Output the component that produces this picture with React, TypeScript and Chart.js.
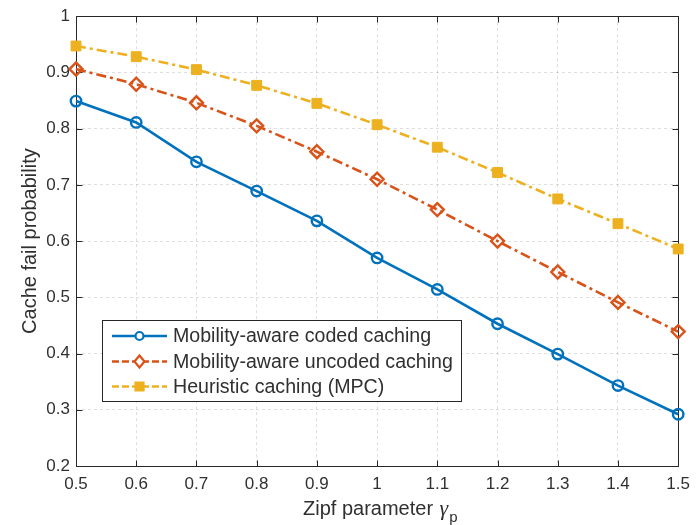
import React, { useEffect, useRef } from "react";
import { Chart, registerables } from "chart.js";

Chart.register(...registerables);

const zipfParams = [0.5, 0.6, 0.7, 0.8, 0.9, 1.0, 1.1, 1.2, 1.3, 1.4, 1.5];
const codedCaching = [0.849, 0.811, 0.741, 0.689, 0.636, 0.570, 0.514, 0.453, 0.399, 0.343, 0.292];
const uncodedCaching = [0.906, 0.879, 0.846, 0.805, 0.759, 0.710, 0.656, 0.600, 0.545, 0.491, 0.439];
const heuristicCaching = [0.947, 0.928, 0.905, 0.877, 0.845, 0.807, 0.767, 0.722, 0.675, 0.631, 0.586];

const seriesNames = [
  "Mobility-aware coded caching",
  "Mobility-aware uncoded caching",
  "Heuristic caching (MPC)",
];

const xTickValues = [0.5, 0.6, 0.7, 0.8, 0.9, 1.0, 1.1, 1.2, 1.3, 1.4, 1.5];
const xTickLabels = ["0.5", "0.6", "0.7", "0.8", "0.9", "1", "1.1", "1.2", "1.3", "1.4", "1.5"];
const yTickValues = [0.2, 0.3, 0.4, 0.5, 0.6, 0.7, 0.8, 0.9, 1.0];
const yTickLabels = ["0.2", "0.3", "0.4", "0.5", "0.6", "0.7", "0.8", "0.9", "1"];

const xTitle = "Zipf parameter ";
const xTitleSymbol = "\u03B3";
const xTitleSub = "p";
const yTitle = "Cache fail probability";

const BLUE = "#0072BD";
const ORANGE = "#D95319";
const YELLOW = "#EDB120";
const AXIS = "#262626";
const TEXT = "#303030";
const DASHDOT = [10, 4, 3, 4];
const FONT = "'Liberation Sans', Arial, sans-serif";
const LW = 2.6;

const toPoints = (ys: number[]) => zipfParams.map((x, i) => ({ x, y: ys[i] }));

function drawMarker(ctx: CanvasRenderingContext2D, style: string, x: number, y: number, r: number, color: string) {
  ctx.save();
  ctx.setLineDash([]);
  ctx.strokeStyle = color;
  ctx.fillStyle = color;
  ctx.lineWidth = 2.2;
  ctx.beginPath();
  if (style === "circle") {
    ctx.arc(x, y, r, 0, Math.PI * 2);
    ctx.fillStyle = "#ffffff";
    ctx.fill();
    ctx.stroke();
  } else if (style === "rectRot") {
    ctx.moveTo(x - r, y);
    ctx.lineTo(x, y - r - 1);
    ctx.lineTo(x + r, y);
    ctx.lineTo(x, y + r + 1);
    ctx.closePath();
    ctx.fillStyle = "#ffffff";
    ctx.fill();
    ctx.stroke();
  } else {
    ctx.rect(x - r, y - r, 2 * r, 2 * r);
    ctx.fill();
    ctx.stroke();
  }
  ctx.restore();
}

const framePlugin = {
  id: "matlabFrame",
  beforeDatasetsDraw(chart: any) {
    const { ctx, chartArea: a, scales } = chart;
    const L = Math.round(a.left) + 0.5;
    const R = Math.round(a.right) + 0.5;
    const T = Math.round(a.top) + 0.5;
    const B = Math.round(a.bottom) + 0.5;
    ctx.save();
    ctx.strokeStyle = AXIS;
    ctx.lineWidth = 1;
    ctx.setLineDash([]);
    ctx.beginPath();
    ctx.rect(L, T, R - L, B - T);
    ctx.stroke();
    const tl = 6;
    ctx.beginPath();
    xTickValues.forEach((v) => {
      const px = Math.round(scales.x.getPixelForValue(v)) + 0.5;
      ctx.moveTo(px, B);
      ctx.lineTo(px, B - tl);
      ctx.moveTo(px, T);
      ctx.lineTo(px, T + tl);
    });
    yTickValues.forEach((v) => {
      const py = Math.round(scales.y.getPixelForValue(v)) + 0.5;
      ctx.moveTo(L, py);
      ctx.lineTo(L + tl, py);
      ctx.moveTo(R, py);
      ctx.lineTo(R - tl, py);
    });
    ctx.stroke();
    ctx.restore();
  },
  afterDraw(chart: any) {
    const { ctx, chartArea: a } = chart;
    ctx.save();
    ctx.fillStyle = TEXT;
    // y title
    ctx.save();
    ctx.translate(30, (a.top + a.bottom) / 2);
    ctx.rotate(-Math.PI / 2);
    ctx.font = `20px ${FONT}`;
    ctx.textAlign = "center";
    ctx.textBaseline = "middle";
    ctx.fillText(yTitle, 0, 0);
    ctx.restore();

    // x title with subscript
    const base = 515;
    let x0 = 303;
    ctx.textAlign = "left";
    ctx.textBaseline = "alphabetic";
    ctx.font = `20px ${FONT}`;
    const w1 = ctx.measureText(xTitle).width;
    ctx.fillText(xTitle, x0, base);
    x0 += w1 + 1;
    ctx.font = `italic 22px 'Liberation Serif', 'Times New Roman', serif`;
    const w2 = ctx.measureText(xTitleSymbol).width;
    ctx.fillText(xTitleSymbol, x0, base);
    x0 += w2 + 1;
    ctx.font = `15px ${FONT}`;
    ctx.fillText(xTitleSub, x0, base + 7);

    // legend
    const box = { l: 102.5, t: 320.5, r: 461.5, b: 401.5 };
    ctx.fillStyle = "#ffffff";
    ctx.fillRect(box.l, box.t, box.r - box.l, box.b - box.t);
    ctx.strokeStyle = AXIS;
    ctx.lineWidth = 1;
    ctx.strokeRect(box.l, box.t, box.r - box.l, box.b - box.t);
    const rows = [
      { name: seriesNames[0], color: BLUE, dash: [] as number[], marker: "circle", r: 4 },
      { name: seriesNames[1], color: ORANGE, dash: [7, 3], marker: "rectRot", r: 5 },
      { name: seriesNames[2], color: YELLOW, dash: [7, 3], marker: "rect", r: 4 },
    ];
    const rowY = [336, 361.5, 386.5];
    rows.forEach((row, i) => {
      const y = rowY[i];
      ctx.save();
      ctx.strokeStyle = row.color;
      ctx.lineWidth = LW;
      ctx.setLineDash(row.dash);
      ctx.beginPath();
      ctx.moveTo(112, y);
      ctx.lineTo(167, y);
      ctx.stroke();
      ctx.restore();
      drawMarker(ctx, row.marker, 139.5, y, row.r, row.color);
      ctx.fillStyle = TEXT;
      ctx.font = `19.6px ${FONT}`;
      ctx.textAlign = "left";
      ctx.textBaseline = "middle";
      ctx.fillText(row.name, 173, y + 1);
    });
    ctx.restore();
  },
};

export default function App() {
  const canvasRef = useRef<HTMLCanvasElement | null>(null);

  useEffect(() => {
    document.body.style.margin = "0";
    const canvas = canvasRef.current;
    if (!canvas) return;
    const chart = new Chart(canvas, {
      type: "line",
      data: {
        datasets: [
          {
            label: seriesNames[0],
            data: toPoints(codedCaching),
            borderColor: BLUE,
            backgroundColor: "#ffffff",
            borderWidth: LW,
            pointStyle: "circle",
            pointRadius: 5.2,
            pointBorderWidth: 2.4,
            pointBorderColor: BLUE,
            pointBackgroundColor: "rgba(255,255,255,0)",
            tension: 0,
            clip: false,
          },
          {
            label: seriesNames[1],
            data: toPoints(uncodedCaching),
            borderColor: ORANGE,
            backgroundColor: "#ffffff",
            borderWidth: LW,
            borderDash: DASHDOT,
            pointStyle: "rectRot",
            pointRadius: 6.5,
            pointBorderWidth: 2.4,
            pointBorderColor: ORANGE,
            pointBackgroundColor: "rgba(255,255,255,0)",
            tension: 0,
            clip: false,
          },
          {
            label: seriesNames[2],
            data: toPoints(heuristicCaching),
            borderColor: YELLOW,
            backgroundColor: YELLOW,
            borderWidth: LW,
            borderDash: DASHDOT,
            pointStyle: "rect",
            pointRadius: 7,
            pointBorderWidth: 1,
            pointBorderColor: YELLOW,
            pointBackgroundColor: YELLOW,
            tension: 0,
            clip: false,
          },
        ],
      },
      options: {
        animation: false,
        responsive: false,
        maintainAspectRatio: false,
        layout: { padding: { left: 0, top: 16, right: 12, bottom: 0 } },
        plugins: {
          legend: { display: false },
          tooltip: { enabled: false },
        },
        scales: {
          x: {
            type: "linear",
            min: 0.5,
            max: 1.5,
            afterBuildTicks: (scale: any) => {
              scale.ticks = xTickValues.map((v) => ({ value: v }));
            },
            afterFit: (scale: any) => {
              scale.height = 59;
            },
            ticks: {
              autoSkip: false,
              maxRotation: 0,
              padding: 8,
              color: TEXT,
              font: { family: FONT, size: 17 },
              callback: (_v: any, i: number) => xTickLabels[i],
            },
            grid: {
              color: "rgba(0,0,0,0.13)",
              lineWidth: 1,
              drawTicks: false,
            },
            border: { display: false, dash: [3, 3] },
          },
          y: {
            type: "linear",
            min: 0.2,
            max: 1,
            afterBuildTicks: (scale: any) => {
              scale.ticks = yTickValues.map((v) => ({ value: v }));
            },
            afterFit: (scale: any) => {
              scale.width = 76;
            },
            ticks: {
              autoSkip: false,
              padding: 6,
              color: TEXT,
              font: { family: FONT, size: 17 },
              callback: (_v: any, i: number) => yTickLabels[i],
            },
            grid: {
              color: "rgba(0,0,0,0.13)",
              lineWidth: 1,
              drawTicks: false,
            },
            border: { display: false, dash: [3, 3] },
          },
        },
      },
      plugins: [framePlugin],
    });
    return () => chart.destroy();
  }, []);

  return (
    <div style={{ width: 698, height: 525, background: "#ffffff" }}>
      <canvas ref={canvasRef} width={698} height={525} style={{ display: "block" }} />
    </div>
  );
}
